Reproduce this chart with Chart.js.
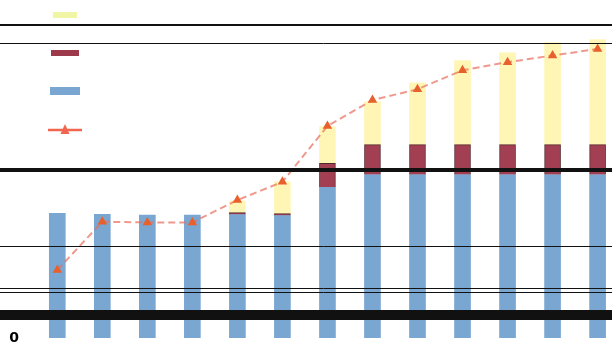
<!DOCTYPE html>
<html>
<head>
<meta charset="utf-8">
<script src="https://cdn.jsdelivr.net/npm/chart.js@4.4.1/dist/chart.umd.min.js"></script>
<style>
  html, body { margin: 0; padding: 0; background: #fff; }
  .chart-box { width: 612px; height: 349px; }
</style>
</head>
<body>
<div class="chart-box"><canvas id="mixChart"></canvas></div>
<script>
// 数据
const categories = [1, 2, 3, 4, 5, 6, 7, 8, 9, 10, 11, 12, 13];
const baseValues = [369, 366, 364, 364, 365, 362, 446, 483, 483, 483, 483, 483, 483];
const midValues = [null, null, null, null, 6, 6, 71, 89, 89, 89, 89, 89, 89];
const topValues = [null, null, null, null, 34, 94, 108, 127, 183, 249, 272, 302, 311];
const lineValues = [201, 344, 342, 342, 408, 462, 627, 704, 736, 792, 816, 836, 855];
const gridValues = [67, 135, 147, 272, 498, 872, 927];
const gridWidths = [10, 1, 1, 1, 4, 1, 2];

// 图例小图标
function makeIcon(w, h, draw) {
    const c = document.createElement('canvas');
    c.width = w;
    c.height = h;
    draw(c.getContext('2d'));
    return c;
}
const boxIcon = (color, w, h) => makeIcon(w, h, ctx => {
    ctx.fillStyle = color;
    ctx.fillRect(0, 0, w, h);
});
const lineIcon = makeIcon(34, 10, ctx => {
    ctx.strokeStyle = '#f0664f';
    ctx.lineWidth = 2.5;
    ctx.beginPath();
    ctx.moveTo(0, 6);
    ctx.lineTo(34, 6);
    ctx.stroke();
    ctx.fillStyle = '#f0664f';
    ctx.beginPath();
    ctx.moveTo(17, 0);
    ctx.lineTo(21.5, 10);
    ctx.lineTo(12.5, 10);
    ctx.closePath();
    ctx.fill();
});
const icons = [
    boxIcon('#7aa6d2', 30, 8),
    boxIcon('#9c3a4c', 28, 6),
    boxIcon('#f1f6a6', 24, 6),
    lineIcon
];
const legendOrder = [2, 1, 0, 3];

const config = {
    type: 'bar',
    data: {
        labels: categories,
        datasets: [
            {
                label: 'A',
                data: baseValues,
                backgroundColor: '#7aa6d2',
                stack: 'bars',
                order: 1,
                barThickness: 16
            },
            {
                label: 'B',
                data: midValues,
                backgroundColor: '#a23f52',
                borderColor: '#55262f',
                borderWidth: 1,
                borderSkipped: 'bottom',
                stack: 'bars',
                order: 1,
                barThickness: 16
            },
            {
                label: 'C',
                data: topValues,
                backgroundColor: '#fff6b6',
                stack: 'bars',
                order: 1,
                barThickness: 16
            },
            {
                type: 'line',
                label: 'D',
                data: lineValues,
                stack: 'line',
                order: 0,
                fill: false,
                borderColor: 'rgba(232, 110, 92, 0.7)',
                borderWidth: 2,
                borderDash: [7, 4],
                pointStyle: 'triangle',
                pointRadius: 3.5,
                pointBackgroundColor: '#e8602c',
                pointBorderColor: '#e8602c'
            }
        ]
    },
    options: {
        responsive: true,
        maintainAspectRatio: false,
        animation: false,
        layout: { autoPadding: false, padding: { top: 0, left: 0, right: 0, bottom: 11 } },
        plugins: {
            tooltip: { enabled: false },
            legend: {
                position: 'chartArea',
                align: 'start',
                labels: {
                    usePointStyle: true,
                    pointStyleWidth: 76,
                    padding: -8,
                    font: { size: 46 },
                    color: 'rgba(0,0,0,0)',
                    generateLabels: () => legendOrder.map(i => ({
                        text: '',
                        datasetIndex: i,
                        pointStyle: icons[i],
                        fillStyle: 'rgba(0,0,0,0)',
                        strokeStyle: 'rgba(0,0,0,0)',
                        lineWidth: 0,
                        hidden: false
                    }))
                }
            }
        },
        scales: {
            x: {
                type: 'linear',
                min: 0.505,
                max: 13.32,
                offset: false,
                stacked: true,
                grid: { display: false, drawTicks: false },
                border: { display: false },
                ticks: { display: false }
            },
            y: {
                stacked: true,
                min: 0,
                max: 1000,
                afterBuildTicks: scale => {
                    scale.ticks = [0, ...gridValues].map(v => ({ value: v }));
                },
                afterFit: scale => { scale.width = 35; },
                border: { display: false },
                grid: {
                    z: 1,
                    tickLength: 35,
                    color: ctx => ctx.tick && ctx.tick.value === 0 ? 'rgba(0,0,0,0)' : '#111',
                    lineWidth: ctx => {
                        if (!ctx.tick || ctx.tick.value === 0) return 0;
                        return gridWidths[gridValues.indexOf(ctx.tick.value)];
                    }
                },
                ticks: {
                    autoSkip: false,
                    padding: -19,
                    color: '#000',
                    // 只显示 0，其余刻度字号压到最小
                    font: ctx => ({
                        family: 'DejaVu Sans',
                        size: ctx.tick && ctx.tick.value === 0 ? 14 : 1,
                        weight: 'bold'
                    }),
                    callback: v => v === 0 ? '0' : ''
                }
            }
        }
    }
};

new Chart(document.getElementById('mixChart'), config);
</script>
</body>
</html>
